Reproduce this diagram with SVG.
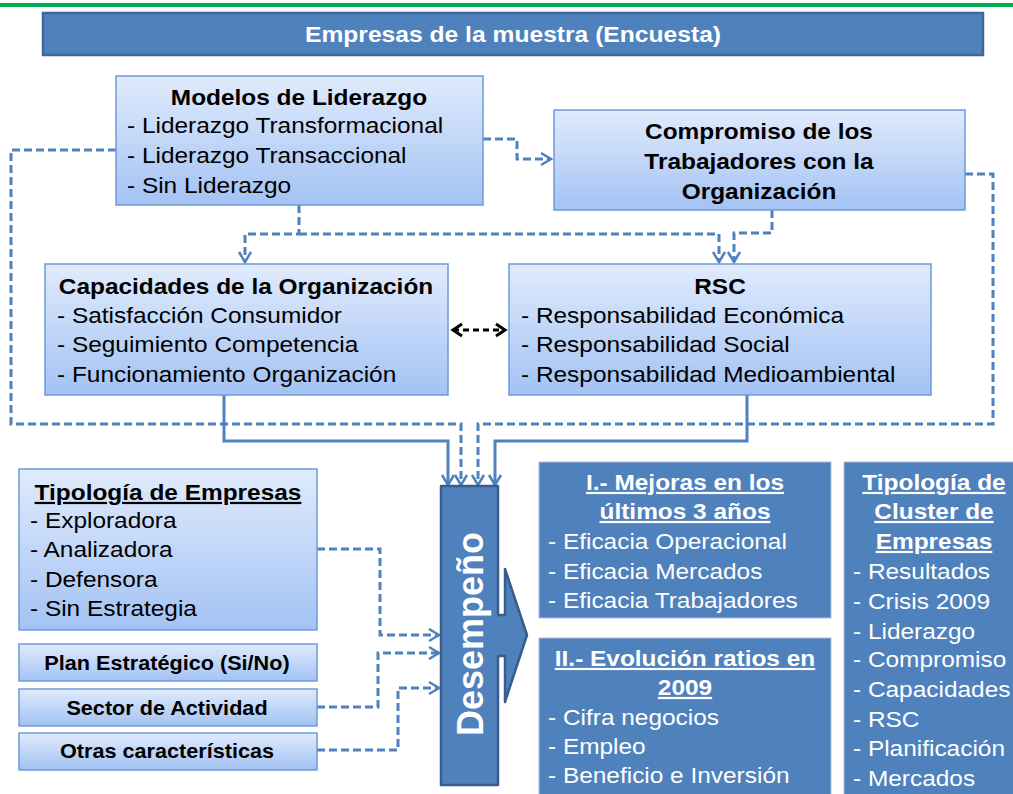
<svg xmlns="http://www.w3.org/2000/svg" width="1013" height="794" viewBox="0 0 1013 794">
<style>
.lb{fill:url(#g);stroke:#6d9bd6;stroke-width:1.5}
.db{fill:#4f81bd;stroke:#a9c0e0;stroke-width:1}
.t{font-family:"Liberation Sans",Arial,sans-serif;font-size:22px;fill:#000}
.s{font-size:19.5px}
.b{font-weight:bold}
.w{fill:#fff}
.u{text-decoration:underline}
.dash{fill:none;stroke:#4f81bd;stroke-width:3;stroke-dasharray:8 4}
.sol{fill:none;stroke:#4f81bd;stroke-width:3}
</style>
<defs>
<linearGradient id="g" x1="0" y1="0" x2="0" y2="1">
<stop offset="0" stop-color="#e0ebfc"/>
<stop offset="1" stop-color="#a3c2f4"/>
</linearGradient>
<marker id="a" markerUnits="userSpaceOnUse" markerWidth="16" markerHeight="16" refX="12" refY="7" orient="auto" viewBox="0 0 16 14">
<path d="M2,1 L12,7 L2,13" fill="none" stroke="#4f81bd" stroke-width="2.5"/>
</marker>
<marker id="k" markerUnits="userSpaceOnUse" markerWidth="16" markerHeight="16" refX="12" refY="7" orient="auto-start-reverse" viewBox="0 0 16 14">
<path d="M3,1 L12,7 L3,13" fill="none" stroke="#000" stroke-width="3"/>
</marker>
</defs>
<rect x="0" y="3" width="1013" height="4" fill="#00b050"/>
<g id="titulo">
<rect x="43" y="13" width="940" height="42" fill="#4f81bd" stroke="#3b679c" stroke-width="2.5"/>
<text class="t b w" text-anchor="middle" transform="translate(513,42) scale(1.12,1)">Empresas de la muestra (Encuesta)</text>
</g>
<g id="connectors">
<path class="dash" d="M483,139 H517 V159 H551" marker-end="url(#a)"/>
<path class="dash" d="M299,205 V234 H245 V262" marker-end="url(#a)"/>
<path class="dash" d="M299,234 H719 V262" marker-end="url(#a)"/>
<path class="dash" d="M772,210 V233 H734 V262" marker-end="url(#a)"/>
<path class="dash" d="M116,150 H11 V424 H461 V485" marker-end="url(#a)"/>
<path class="dash" d="M965,174 H993 V424 H478 V485" marker-end="url(#a)"/>
<path class="sol" d="M224,395 V441 H448 V485" marker-end="url(#a)"/>
<path class="sol" d="M747,395 V441 H495 V485" marker-end="url(#a)"/>
<path class="dash" d="M317,549 H380 V635 H439" marker-end="url(#a)"/>
<path class="dash" d="M317,707 H378 V653 H439" marker-end="url(#a)"/>
<path class="dash" d="M317,750 H398 V688 H439" marker-end="url(#a)"/>
<path d="M453,330 H505" fill="none" stroke="#000" stroke-width="3" stroke-dasharray="6 4" marker-start="url(#k)" marker-end="url(#k)"/>
</g>
<g id="modelos">
<rect class="lb" x="116" y="76" width="367" height="129"/>
<text class="t b" text-anchor="middle" transform="translate(299,105) scale(1.11,1)">Modelos de Liderazgo</text>
<g transform="translate(127,0) scale(1.11,1)">
<text class="t" y="133">- Liderazgo Transformacional</text>
<text class="t" y="163">- Liderazgo Transaccional</text>
<text class="t" y="193">- Sin Liderazgo</text>
</g>
</g>
<g id="compromiso">
<rect class="lb" x="554" y="110" width="411" height="100"/>
<g transform="translate(759,0) scale(1.11,1)">
<text class="t b" text-anchor="middle" y="139">Compromiso de los</text>
<text class="t b" text-anchor="middle" y="169">Trabajadores con la</text>
<text class="t b" text-anchor="middle" y="199">Organización</text>
</g>
</g>
<g id="capacidades">
<rect class="lb" x="45" y="264" width="403" height="131"/>
<text class="t b" text-anchor="middle" transform="translate(246,294) scale(1.11,1)">Capacidades de la Organización</text>
<g transform="translate(57,0) scale(1.11,1)">
<text class="t" y="323">- Satisfacción Consumidor</text>
<text class="t" y="352">- Seguimiento Competencia</text>
<text class="t" y="382">- Funcionamiento Organización</text>
</g>
</g>
<g id="rsc">
<rect class="lb" x="509" y="264" width="422" height="131"/>
<text class="t b" text-anchor="middle" transform="translate(720,294) scale(1.11,1)">RSC</text>
<g transform="translate(521,0) scale(1.11,1)">
<text class="t" y="323">- Responsabilidad Económica</text>
<text class="t" y="352">- Responsabilidad Social</text>
<text class="t" y="382">- Responsabilidad Medioambiental</text>
</g>
</g>
<g id="tipologia">
<rect class="lb" x="19" y="469" width="298" height="161"/>
<text class="t b u" text-anchor="middle" transform="translate(168,500) scale(1.11,1)">Tipología de Empresas</text>
<g transform="translate(30,0) scale(1.11,1)">
<text class="t" y="528">- Exploradora</text>
<text class="t" y="557">- Analizadora</text>
<text class="t" y="587">- Defensora</text>
<text class="t" y="616">- Sin Estrategia</text>
</g>
</g>
<g id="plan">
<rect class="lb" x="19" y="644" width="298" height="37"/>
<text class="t s b" text-anchor="middle" transform="translate(167,670) scale(1.11,1)">Plan Estratégico (Si/No)</text>
</g>
<g id="sector">
<rect class="lb" x="19" y="689" width="298" height="37"/>
<text class="t s b" text-anchor="middle" transform="translate(167,715) scale(1.11,1)">Sector de Actividad</text>
</g>
<g id="otras">
<rect class="lb" x="19" y="733" width="298" height="37"/>
<text class="t s b" text-anchor="middle" transform="translate(167,758) scale(1.11,1)">Otras características</text>
</g>
<g id="desempeno">
<path d="M441,486 H498 V615 H505 V569 L527,635 L505,702 V656 H498 V785 H441 Z" fill="#4f81bd" stroke="#385d8a" stroke-width="2.5" stroke-linejoin="round"/>
<text class="t b w" text-anchor="middle" font-size="36" transform="translate(483,634) rotate(-90)" style="font-size:36px">Desempeño</text>
</g>
<g id="mejoras">
<rect class="db" x="539" y="462" width="292" height="156"/>
<g transform="translate(685,0) scale(1.11,1)">
<text class="t b w u" text-anchor="middle" y="490">I.- Mejoras en los</text>
<text class="t b w u" text-anchor="middle" y="519">últimos 3 años</text>
</g>
<g transform="translate(548,0) scale(1.11,1)">
<text class="t w" y="549">- Eficacia Operacional</text>
<text class="t w" y="579">- Eficacia Mercados</text>
<text class="t w" y="608">- Eficacia Trabajadores</text>
</g>
</g>
<g id="ratios">
<rect class="db" x="539" y="638" width="292" height="160"/>
<g transform="translate(685,0) scale(1.11,1)">
<text class="t b w u" text-anchor="middle" y="666">II.- Evolución ratios en</text>
<text class="t b w u" text-anchor="middle" y="695">2009</text>
</g>
<g transform="translate(548,0) scale(1.11,1)">
<text class="t w" y="725">- Cifra negocios</text>
<text class="t w" y="754">- Empleo</text>
<text class="t w" y="783">- Beneficio e Inversión</text>
</g>
</g>
<g id="cluster">
<rect class="db" x="844" y="462" width="175" height="336"/>
<g transform="translate(934,0) scale(1.11,1)">
<text class="t b w u" text-anchor="middle" y="490">Tipología de</text>
<text class="t b w u" text-anchor="middle" y="519">Cluster de</text>
<text class="t b w u" text-anchor="middle" y="549">Empresas</text>
</g>
<g transform="translate(853,0) scale(1.11,1)">
<text class="t w" y="579">- Resultados</text>
<text class="t w" y="609">- Crisis 2009</text>
<text class="t w" y="639">- Liderazgo</text>
<text class="t w" y="667">- Compromiso</text>
<text class="t w" y="697">- Capacidades</text>
<text class="t w" y="727">- RSC</text>
<text class="t w" y="756">- Planificación</text>
<text class="t w" y="786">- Mercados</text>
</g>
</g>
</svg>
